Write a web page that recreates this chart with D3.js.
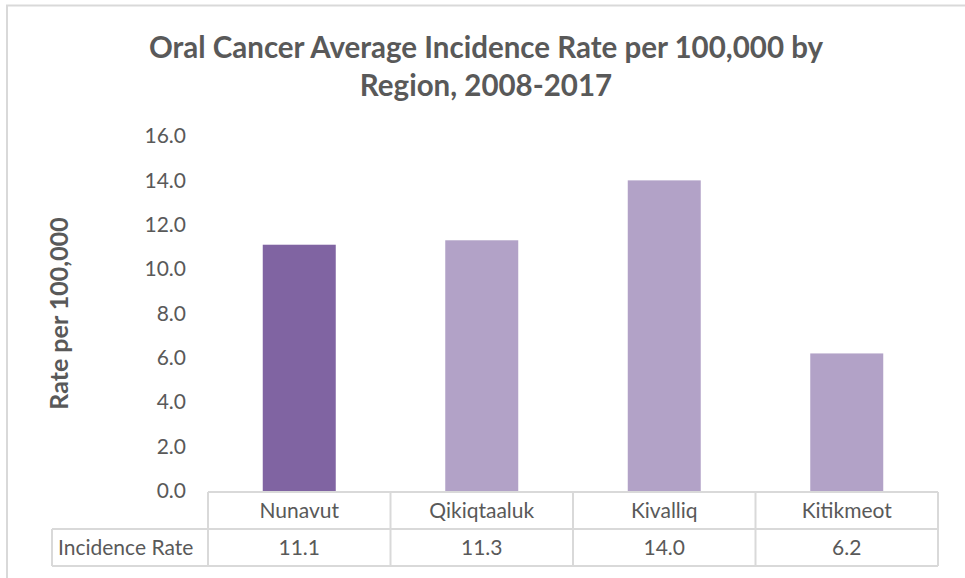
<!DOCTYPE html>
<html lang="en">
<head>
    <meta charset="UTF-8">
    <title>Oral Cancer Average Incidence Rate</title>
    <script src="https://d3js.org/d3.v7.min.js"></script>
    <style>
        body { margin: 0; background: #fff; }
        text { font-family: Lato, "Open Sans", sans-serif; fill: #595959; }
    </style>
</head>
<body>
    <div id="chart"></div>
    <script>
        // Chart data
        const regions = ["Nunavut", "Qikiqtaaluk", "Kivalliq", "Kitikmeot"];
        const rates = [11.1, 11.3, 14.0, 6.2];
        const barColors = ["#8064a2", "#b2a2c7", "#b2a2c7", "#b2a2c7"];
        const yTicks = [0, 2, 4, 6, 8, 10, 12, 14, 16];
        const titleLines = ["Oral Cancer Average Incidence Rate per 100,000 by", "Region, 2008-2017"];
        const rowLabel = "Incidence Rate";
        const yLabel = "Rate per 100,000";

        const width = 965;
        const height = 578;
        const margin = { top: 136, right: 27, bottom: 87, left: 208 };
        const fontSize = "21px";

        const svg = d3.select("#chart")
            .append("svg")
            .attr("width", width)
            .attr("height", height);

        // outer chart border
        svg.append("rect")
            .attr("x", 7)
            .attr("y", 5.5)
            .attr("width", width + 10)
            .attr("height", height + 10)
            .attr("fill", "none")
            .attr("stroke", "#d9d9d9")
            .attr("stroke-width", 2);

        const x = d3.scaleBand()
            .domain(regions)
            .range([margin.left, width - margin.right])
            .paddingInner(0.6)
            .paddingOuter(0.3);

        const band = d3.scaleBand()
            .domain(regions)
            .range([margin.left, width - margin.right]);

        const y = d3.scaleLinear()
            .domain([0, 16])
            .range([height - margin.bottom, margin.top]);

        // title
        svg.append("g")
            .selectAll("text")
            .data(titleLines)
            .enter().append("text")
            .attr("x", 486)
            .attr("y", (d, i) => 58 + i * 38)
            .attr("text-anchor", "middle")
            .attr("font-size", "29.5px")
            .attr("font-weight", "bold")
            .text(d => d);

        // y axis labels (no line, no ticks)
        const yAxis = d3.axisLeft(y)
            .tickValues(yTicks)
            .tickFormat(d3.format(".1f"))
            .tickSize(0)
            .tickPadding(0);

        svg.append("g")
            .attr("transform", `translate(186,0)`)
            .call(yAxis)
            .call(g => g.select(".domain").remove())
            .call(g => g.selectAll("text")
                .attr("font-size", fontSize)
                .attr("font-family", "Lato, 'Open Sans', sans-serif")
                .attr("fill", "#595959"));

        svg.append("text")
            .attr("transform", `translate(68,${(y(0) + y(16)) / 2}) rotate(-90)`)
            .attr("text-anchor", "middle")
            .attr("font-size", "25px")
            .attr("font-weight", "bold")
            .text(yLabel);

        // bars
        svg.append("g")
            .selectAll("rect")
            .data(rates)
            .enter().append("rect")
            .attr("x", (d, i) => x(regions[i]))
            .attr("y", d => y(d))
            .attr("width", x.bandwidth())
            .attr("height", d => y(0) - y(d))
            .attr("fill", (d, i) => barColors[i]);

        // data table under the plot
        const rowTop = y(0) + 1;
        const rowH = 37;
        const labelLeft = 52;
        const grid = svg.append("g")
            .attr("stroke", "#d9d9d9")
            .attr("stroke-width", 2)
            .attr("fill", "none");

        const tRight = width - margin.right;
        grid.append("line")
            .attr("x1", margin.left).attr("x2", tRight)
            .attr("y1", rowTop).attr("y2", rowTop);
        grid.append("line")
            .attr("x1", labelLeft).attr("x2", tRight)
            .attr("y1", rowTop + rowH).attr("y2", rowTop + rowH);
        grid.append("line")
            .attr("x1", labelLeft).attr("x2", tRight)
            .attr("y1", rowTop + 2 * rowH).attr("y2", rowTop + 2 * rowH);
        grid.append("line")
            .attr("x1", labelLeft).attr("x2", labelLeft)
            .attr("y1", rowTop + rowH).attr("y2", rowTop + 2 * rowH);
        grid.selectAll(".vline")
            .data(regions.concat(["end"]))
            .enter().append("line")
            .attr("x1", (d, i) => i < regions.length ? band(d) : tRight)
            .attr("x2", (d, i) => i < regions.length ? band(d) : tRight)
            .attr("y1", rowTop)
            .attr("y2", rowTop + 2 * rowH);

        svg.append("g")
            .selectAll("text")
            .data(regions)
            .enter().append("text")
            .attr("x", d => band(d) + band.bandwidth() / 2)
            .attr("y", rowTop + rowH / 2 + 7)
            .attr("text-anchor", "middle")
            .attr("font-size", fontSize)
            .text(d => d);

        svg.append("g")
            .selectAll("text")
            .data(rates)
            .enter().append("text")
            .attr("x", (d, i) => band(regions[i]) + band.bandwidth() / 2)
            .attr("y", rowTop + rowH * 1.5 + 7)
            .attr("text-anchor", "middle")
            .attr("font-size", fontSize)
            .text(d => d.toFixed(1));

        svg.append("text")
            .attr("x", labelLeft + 6)
            .attr("y", rowTop + rowH * 1.5 + 7)
            .attr("font-size", fontSize)
            .text(rowLabel);
    </script>
</body>
</html>
